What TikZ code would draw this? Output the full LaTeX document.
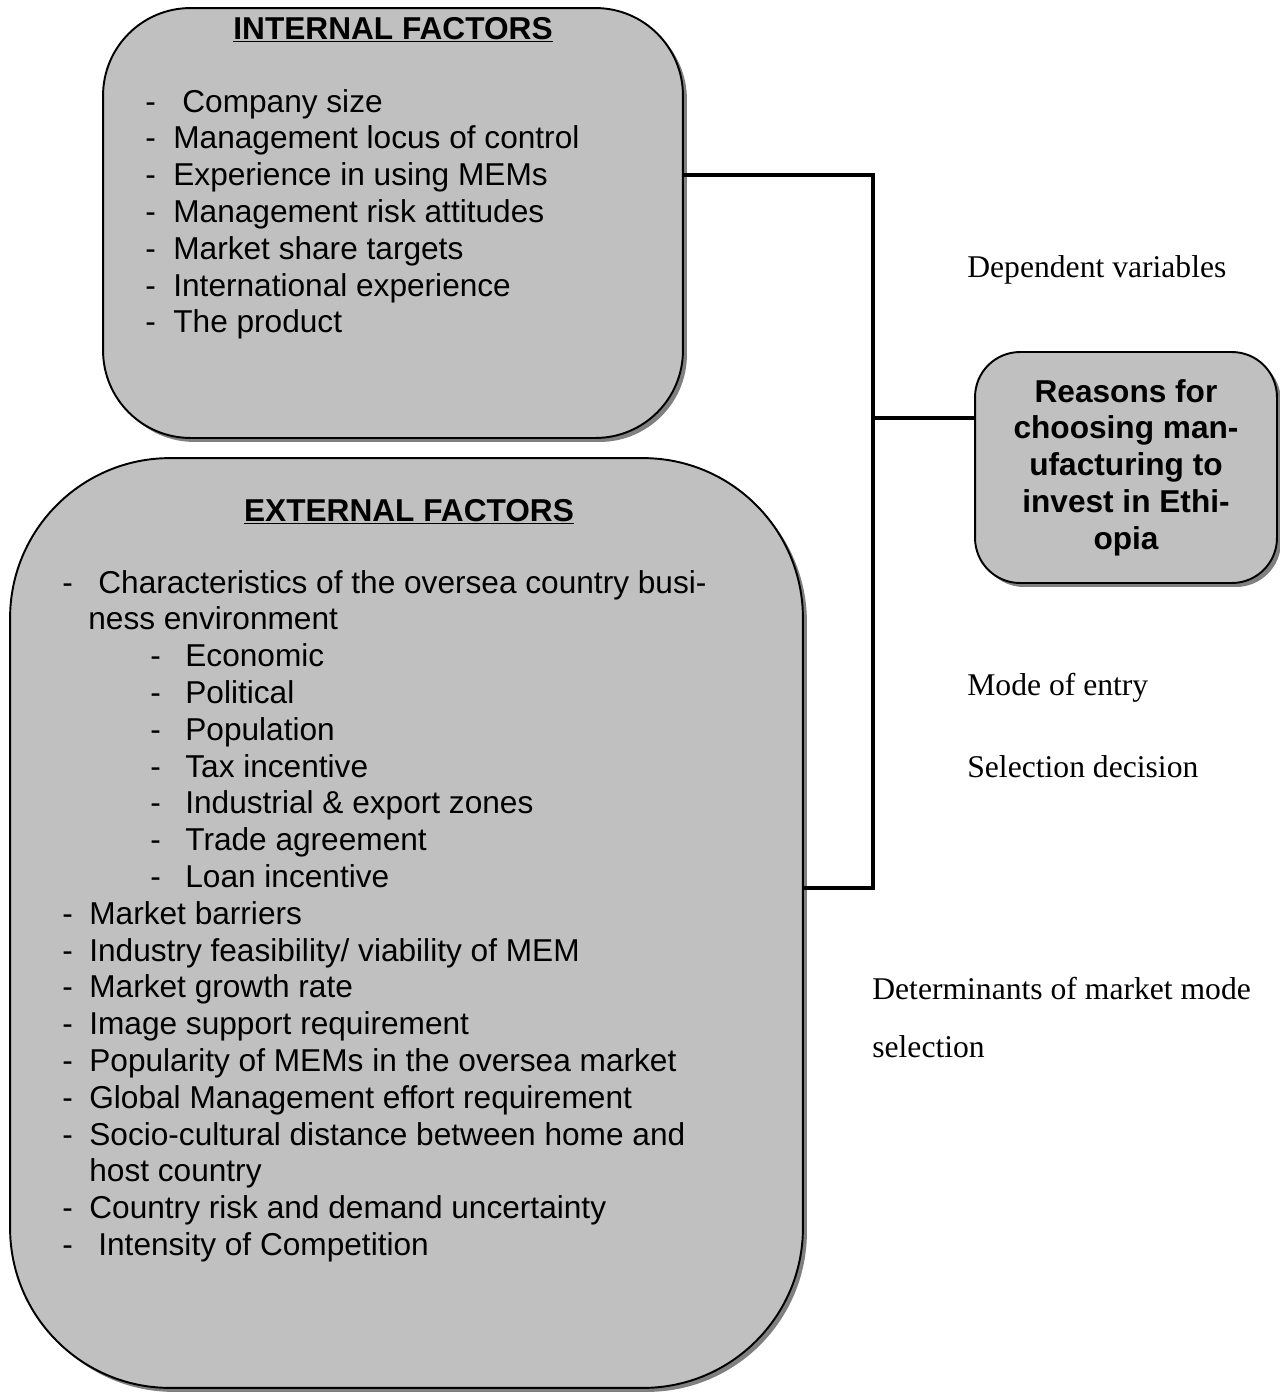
\documentclass[tikz,border=0pt]{standalone}
\usepackage{fontspec}
\setmainfont{Liberation Sans}
\newfontfamily\timesface{Liberation Serif}
\usepackage{tikz}
\usetikzlibrary{shadows}
\definecolor{boxgray}{HTML}{C0C0C0}
\definecolor{shadowgray}{HTML}{808080}
\tikzset{
	factorbox/.style={rectangle,draw=black,line width=1.1pt,fill=boxgray,
		drop shadow={shadow xshift=0.08cm,shadow yshift=-0.08cm,fill=shadowgray,opacity=1}},
	itemtext/.style={anchor=base west,inner sep=0pt,font=\fontsize{18}{21}\selectfont},
	titletext/.style={anchor=base,inner sep=0pt,font=\bfseries\fontsize{18}{21}\selectfont},
	sidetext/.style={anchor=base west,inner sep=0pt,font=\timesface\fontsize{18}{21}\selectfont},
	linkline/.style={line width=2.5pt}
}

\begin{document}
\begin{tikzpicture}[x=0.02cm,y=-0.02cm]
		\useasboundingbox (0,0) rectangle (1280,1394);
		% boxes
		\node[factorbox,rounded corners=1.75cm,minimum width=11.6cm,minimum height=8.6cm] (internal) at (393,223) {};
		\node[factorbox,rounded corners=3.2cm,minimum width=15.86cm,minimum height=18.6cm] (external) at (406.5,923) {};
		\node[factorbox,rounded corners=0.9cm,minimum width=6.04cm,minimum height=4.62cm,align=center,
			font=\bfseries\fontsize{18}{20.9}\selectfont] (reasons) at (1126,467.5)
			{Reasons for\\choosing man-\\ufacturing to\\invest in Ethi-\\opia};
		% internal factors
		\node[titletext] (ititle) at (393,39) {\underline{INTERNAL FACTORS}};
		\node[itemtext] (i1) at (145,112) {-};
		\node[itemtext] (i1t) at (182,112) {Company size};
		\node[itemtext] (i2) at (145,148.8) {-};
		\node[itemtext] (i2t) at (173,148.8) {Management locus of control};
		\node[itemtext] (i3) at (145,185.6) {-};
		\node[itemtext] (i3t) at (173,185.6) {Experience in using MEMs};
		\node[itemtext] (i4) at (145,222.4) {-};
		\node[itemtext] (i4t) at (173,222.4) {Management risk attitudes};
		\node[itemtext] (i5) at (145,259.2) {-};
		\node[itemtext] (i5t) at (173,259.2) {Market share targets};
		\node[itemtext] (i6) at (145,296) {-};
		\node[itemtext] (i6t) at (173,296) {International experience};
		\node[itemtext] (i7) at (145,332.8) {-};
		\node[itemtext] (i7t) at (173,332.8) {The product};
		% external factors
		\node[titletext] (etitle) at (409,521) {\underline{EXTERNAL FACTORS}};
		\node[itemtext] (e1) at (62,593) {-};
		\node[itemtext] (e1t) at (98,593) {Characteristics of the oversea country busi-};
		\node[itemtext] (e1u) at (88,629.8) {ness environment};
		\node[itemtext] (s1) at (150,666.6) {-};
		\node[itemtext] (s1t) at (185,666.6) {Economic};
		\node[itemtext] (s2) at (150,703.4) {-};
		\node[itemtext] (s2t) at (185,703.4) {Political};
		\node[itemtext] (s3) at (150,740.2) {-};
		\node[itemtext] (s3t) at (185,740.2) {Population};
		\node[itemtext] (s4) at (150,777) {-};
		\node[itemtext] (s4t) at (185,777) {Tax incentive};
		\node[itemtext] (s5) at (150,813.8) {-};
		\node[itemtext] (s5t) at (185,813.8) {Industrial \& export zones};
		\node[itemtext] (s6) at (150,850.6) {-};
		\node[itemtext] (s6t) at (185,850.6) {Trade agreement};
		\node[itemtext] (s7) at (150,887.4) {-};
		\node[itemtext] (s7t) at (185,887.4) {Loan incentive};
		\node[itemtext] (e2) at (62,924.2) {-};
		\node[itemtext] (e2t) at (89,924.2) {Market barriers};
		\node[itemtext] (e3) at (62,961) {-};
		\node[itemtext] (e3t) at (89,961) {Industry feasibility/ viability of MEM};
		\node[itemtext] (e4) at (62,997.8) {-};
		\node[itemtext] (e4t) at (89,997.8) {Market growth rate};
		\node[itemtext] (e5) at (62,1034.6) {-};
		\node[itemtext] (e5t) at (89,1034.6) {Image support requirement};
		\node[itemtext] (e6) at (62,1071.4) {-};
		\node[itemtext] (e6t) at (89,1071.4) {Popularity of MEMs in the oversea market};
		\node[itemtext] (e7) at (62,1108.2) {-};
		\node[itemtext] (e7t) at (89,1108.2) {Global Management effort requirement};
		\node[itemtext] (e8) at (62,1145) {-};
		\node[itemtext] (e8t) at (89,1145) {Socio-cultural distance between home and};
		\node[itemtext] (e8u) at (89,1181.8) {host country};
		\node[itemtext] (e9) at (62,1218.6) {-};
		\node[itemtext] (e9t) at (89,1218.6) {Country risk and demand uncertainty};
		\node[itemtext] (e10) at (62,1255.4) {-};
		\node[itemtext] (e10t) at (98,1255.4) {Intensity of Competition};
		% side labels
		\node[sidetext] (dep) at (967,277) {Dependent variables};
		\node[sidetext] (mode) at (967,695) {Mode of entry};
		\node[sidetext] (sel) at (967,777) {Selection decision};
		\node[sidetext] (det) at (872,999) {Determinants of market mode};
		\node[sidetext] (det2) at (872,1057) {selection};
		% connectors
		\coordinate (jtop) at (873,175);
		\coordinate (jmid) at (873,418);
		\coordinate (jbot) at (873,888);
		\draw[linkline] (internal.east |- jtop) -- (jtop) -- (jbot) -- (external.east |- jbot);
		\draw[linkline] (jmid) -- (reasons.west |- jmid);
		\end{tikzpicture}
\end{document}
